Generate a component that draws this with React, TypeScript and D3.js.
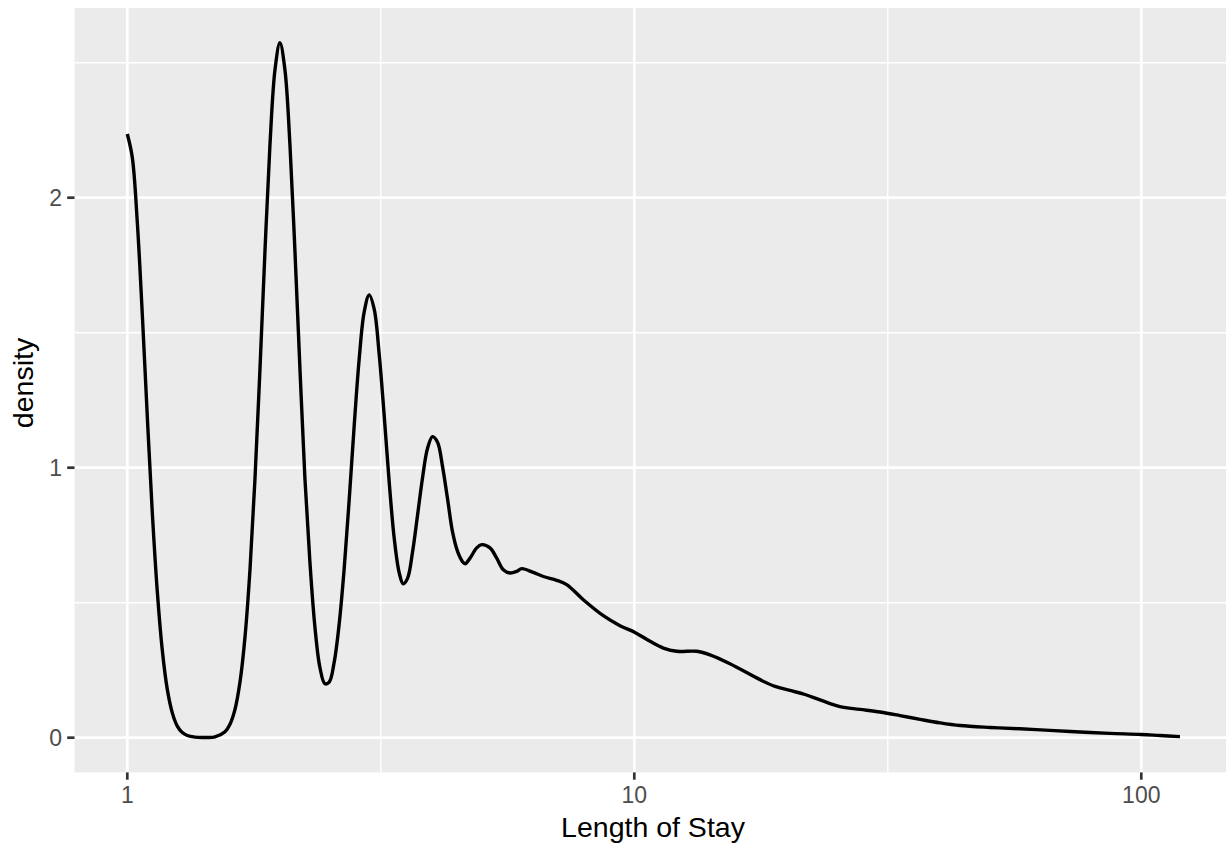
import React from "react";
import * as d3 from "d3";

// Length of stay (x, log scale) and estimated density values
const los = [
  1.0, 1.023, 1.0465, 1.0705, 1.0951, 1.1202, 1.146, 1.1723, 1.1992, 1.2268, 1.2549, 1.2838, 1.3132,
  1.36, 1.4232, 1.4893, 1.5585, 1.5943, 1.6309, 1.6683, 1.7067, 1.7458, 1.7859, 1.827, 1.8689, 1.9118,
  1.9557, 2.0, 2.0459, 2.0929, 2.141, 2.1902, 2.2405, 2.2919, 2.3446, 2.3984, 2.4535, 2.5016, 2.5591,
  2.6179, 2.678, 2.7395, 2.8024, 2.8668, 2.9327, 3.0, 3.0689, 3.1394, 3.2115, 3.2853, 3.3607, 3.4379,
  3.5009, 3.5707, 3.6526, 3.7365, 3.8224, 3.9102, 4.0, 4.0918, 4.1858, 4.282, 4.3804, 4.481, 4.5839,
  4.636, 4.742, 4.888, 5.0, 5.193, 5.353, 5.516, 5.687, 5.862, 6.0, 6.32, 6.615, 7.029, 7.357, 7.932,
  8.687, 9.371, 10.03, 10.74, 11.41, 12.12, 13.28, 14.1, 15.44, 17.7, 18.95, 20.28, 21.71, 23.24, 25.45,
  27.87, 30.52, 33.42, 36.6, 40.08, 43.9, 50.3, 57.64, 66.06, 75.7, 86.75, 100, 108.9, 119.2,
];
const density = [
  2.236, 2.149, 1.909, 1.568, 1.189, 0.834, 0.541, 0.324, 0.179, 0.092, 0.043, 0.019, 0.008,
  0.002, 0.001, 0.003, 0.022, 0.05, 0.105, 0.206, 0.373, 0.623, 0.96, 1.369, 1.804, 2.198,
  2.474, 2.574, 2.474, 2.198, 1.804, 1.369, 0.96, 0.65, 0.41, 0.26, 0.2, 0.206, 0.28,
  0.422, 0.627, 0.882, 1.156, 1.403, 1.577, 1.64, 1.587, 1.42, 1.193, 0.947, 0.739, 0.611,
  0.57, 0.59, 0.688, 0.824, 0.963, 1.072, 1.115, 1.094, 1.004, 0.885, 0.762, 0.69, 0.652,
  0.644, 0.665, 0.703, 0.715, 0.703, 0.665, 0.622, 0.61, 0.616, 0.626, 0.612, 0.597, 0.583, 0.567, 0.511,
  0.452, 0.415, 0.39, 0.357, 0.332, 0.32, 0.32, 0.307, 0.274, 0.215, 0.19, 0.175, 0.16, 0.14, 0.115,
  0.105, 0.095, 0.082, 0.068, 0.055, 0.045, 0.038, 0.033, 0.027, 0.021, 0.016, 0.012, 0.008, 0.004,
];
const xMajor = [1, 10, 100];
const xMajorLabels = ["1", "10", "100"];
const xMinor = [Math.sqrt(10), Math.sqrt(1000)];
const yMajor = [0, 1, 2];
const yMinor = [0.5, 1.5, 2.5];

const W = 1226;
const H = 843;
const panel = { left: 74.5, right: 1226, top: 8, bottom: 772.4 };

export default function App() {
  const x = d3.scaleLog().domain([1, 100]).range([127.3, 1141.3]);
  const y = d3.scaleLinear().domain([0, 2]).range([737.7, 197.7]);
  const pts: [number, number][] = los.map((v, i) => [v, density[i]]);
  const line = d3
    .line<[number, number]>()
    .x((d) => x(d[0]))
    .y((d) => y(d[1]))
    .curve(d3.curveCatmullRom.alpha(0.5));
  const font = "'Liberation Sans', Arial, Helvetica, sans-serif";
  return (
    <div style={{ position: "absolute", left: 0, top: 0 }}>
      <svg width={W} height={H} style={{ display: "block", background: "#fff" }}>
        <defs>
          <clipPath id="pclip">
            <rect x={panel.left} y={panel.top} width={panel.right - panel.left} height={panel.bottom - panel.top} />
          </clipPath>
        </defs>
        <rect x={panel.left} y={panel.top} width={panel.right - panel.left} height={panel.bottom - panel.top} fill="#EBEBEB" />
        <g clipPath="url(#pclip)">
          {yMinor.map((v) => (
            <line key={"ym" + v} x1={panel.left} x2={panel.right} y1={y(v)} y2={y(v)} stroke="#fff" strokeWidth={1.35} />
          ))}
          {xMinor.map((v) => (
            <line key={"xm" + v} x1={x(v)} x2={x(v)} y1={panel.top} y2={panel.bottom} stroke="#fff" strokeWidth={1.35} />
          ))}
          {yMajor.map((v) => (
            <line key={"yM" + v} x1={panel.left} x2={panel.right} y1={y(v)} y2={y(v)} stroke="#fff" strokeWidth={2.7} />
          ))}
          {xMajor.map((v) => (
            <line key={"xM" + v} x1={x(v)} x2={x(v)} y1={panel.top} y2={panel.bottom} stroke="#fff" strokeWidth={2.7} />
          ))}
          <path d={line(pts) || ""} fill="none" stroke="#000" strokeWidth={3.4} strokeLinejoin="round" />
        </g>
        {yMajor.map((v) => (
          <g key={"yt" + v}>
            <line x1={panel.left - 7.3} x2={panel.left} y1={y(v)} y2={y(v)} stroke="#333" strokeWidth={2.7} />
            <text x={62} y={y(v)} dy="0.36em" textAnchor="end" fontFamily={font} fontSize={23} fill="#4D4D4D">
              {String(v)}
            </text>
          </g>
        ))}
        {xMajor.map((v, i) => (
          <g key={"xt" + v}>
            <line x1={x(v)} x2={x(v)} y1={panel.bottom} y2={panel.bottom + 7.3} stroke="#333" strokeWidth={2.7} />
            <text x={x(v)} y={802.6} textAnchor="middle" fontFamily={font} fontSize={23} fill="#4D4D4D">
              {xMajorLabels[i]}
            </text>
          </g>
        ))}
        <text x={653} y={836.5} textAnchor="middle" fontFamily={font} fontSize={28.5} fill="#000">
          Length of Stay
        </text>
        <text transform={`translate(33,383) rotate(-90)`} textAnchor="middle" fontFamily={font} fontSize={28.5} fill="#000">
          density
        </text>
      </svg>
    </div>
  );
}
